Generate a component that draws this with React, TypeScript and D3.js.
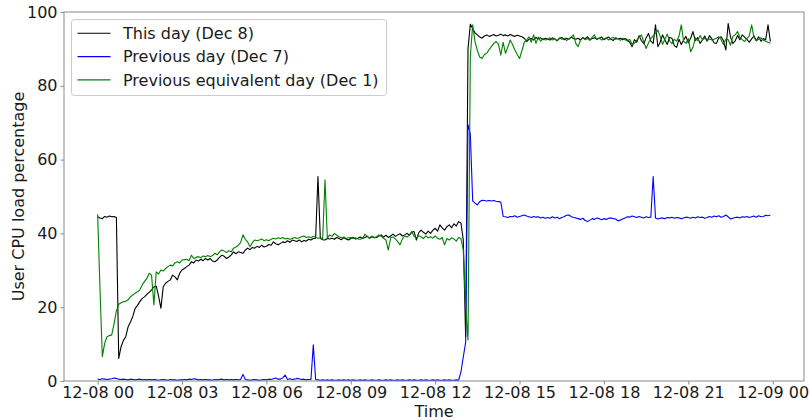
import { useEffect, useRef } from 'react';
import * as d3 from 'd3';

// 5-minute samples starting 12-08 00:00, one row per hour
const thisDay: number[] = [
  44.5, 44.2, 44.0, 44.6, 44.4, 44.7, 44.5, 44.6, 44.3, 6.1, 9.3, 11,
  12, 14.7, 16, 17.5, 19.7, 20.5, 21.5, 22.4, 22.8, 23.5, 24, 24.7,
  25.5, 25.7, 23, 19.7, 25.6, 26.5, 27, 27.4, 28.7, 28.2, 27.4, 29.2,
  30.1, 30.5, 31, 31.4, 32.3, 32, 32.8, 32.5, 33, 32.6, 33.2, 32.8,
  33.2, 32.5, 32.3, 32.8, 33.5, 34.1, 33.8, 33.2, 33.6, 34.2, 35, 34.5,
  35, 34.8, 34.6, 35.5, 36, 35.6, 36.2, 36, 36.5, 36.2, 36.8, 36.3,
  36.5, 37, 36.8, 37.7, 37.2, 36.9, 37.3, 37.7, 37.5, 38, 37.6, 38.2,
  38, 37.8, 38.2, 37.7, 38.1, 37.9, 38.4, 38.2, 38.6, 38.7, 55.4, 38.7,
  38.3, 38.2, 38.6, 38.5, 38.7, 38.4, 38.9, 38.6, 38.3, 38.8, 38.5, 38.2,
  38.6, 38.9, 38.5, 38.7, 39, 38.6, 38.9, 39.2, 38.7, 39.1, 38.8, 38.9,
  39.3, 39.6, 39, 39.5, 38.9, 39.3, 39.8, 39.2, 39.6, 39.9, 39.3, 39.6,
  40, 39.5, 40.3, 40.5, 38.2, 40.2, 40.9, 40.3, 39.8, 40.6, 40, 40.8,
  41.4, 40.6, 42.3, 41.5, 40.9, 41.8, 42.3, 41.5, 42.6, 42, 43.2, 42.8,
  38.2, 12, 90, 96.7, 95.5, 94.3, 93.8, 93.2, 92.9, 93.5, 93.8, 93.4,
  93.6, 93.9, 93.5, 93.7, 94, 93.6, 93.8, 93.5, 93.9, 93.6, 93.4, 93.7,
  93.5, 93.3, 92.9, 92, 92.6, 92.8, 92.4, 93.1, 92.7, 93, 92.5, 92.9,
  92.6, 92.4, 93, 92.7, 92.2, 92.8, 93.1, 92.5, 92.9, 92.6, 93.2, 92.8,
  92.6, 92.9, 92.4, 93.1, 92.7, 93.3, 92.5, 92.8, 93, 92.6, 92.9, 93.2,
  92.5, 92.9, 93.2, 92.6, 92.3, 93, 92.7, 92.9, 92.5, 92.8, 92.4, 91.8,
  90.6, 92.5, 91.8, 93.6, 92.2, 91.4, 93, 94.2, 92.1, 91.5, 96.5, 90.6,
  91.8, 93.8, 92.4, 91.2, 93.1, 92.9, 90.9, 90.4, 92.6, 91.2, 92.4, 93.4,
  91.6, 92.9, 94.7, 92.2, 93.1, 91.5, 92.4, 93.5, 92.1, 93.6, 92.8, 91.6,
  91.5, 93, 93.3, 92.2, 89.7, 96.9, 93.2, 91.5, 92.2, 93.6, 92.5, 93.8,
  93.2, 92.6, 91.8, 92.7, 93.5, 92.2, 93.3, 92.1, 92.8, 92.5, 96.5, 92,
];

const previousDay: number[] = [
  0.5, 0.4, 0.6, 0.5, 0.4, 0.5, 0.6, 0.8, 0.7, 0.5, 0.4, 0.5,
  0.4, 0.3, 0.5, 0.4, 0.3, 0.4, 0.5, 0.3, 0.4, 0.3, 0.4, 0.3,
  0.4, 0.3, 0.2, 0.3, 0.4, 0.3, 0.2, 0.4, 0.3, 0.3, 0.2, 0.3,
  0.3, 0.4, 0.3, 0.5, 0.4, 0.6, 0.5, 0.3, 0.4, 0.3, 0.4, 0.3,
  0.3, 0.2, 0.4, 0.3, 0.4, 0.5, 0.3, 0.4, 0.3, 0.4, 0.3, 0.4,
  0.3, 0.4, 1.8, 0.4, 0.3, 0.2, 0.3, 0.4, 0.3, 0.2, 0.3, 0.4,
  0.3, 0.5, 0.4, 0.6, 0.8, 0.5, 0.5, 0.9, 1.6, 0.4, 0.6, 0.4,
  0.5, 0.7, 0.6, 0.4, 0.5, 0.3, 0.4, 0.4, 9.8, 0.4, 0.3, 0.2,
  0.3, 0.2, 0.3, 0.2, 0.3, 0.2, 0.2, 0.3, 0.2, 0.3, 0.2, 0.3,
  0.2, 0.3, 0.2, 0.2, 0.3, 0.2, 0.3, 0.2, 0.2, 0.3, 0.2, 0.2,
  0.3, 0.2, 0.2, 0.3, 0.2, 0.3, 0.2, 0.2, 0.3, 0.2, 0.3, 0.2,
  0.2, 0.3, 0.2, 0.3, 0.2, 0.2, 0.3, 0.2, 0.3, 0.2, 0.2, 0.3,
  0.2, 0.3, 0.2, 0.2, 0.3, 0.2, 0.3, 0.2, 0.2, 0.3, 0.2, 2.5,
  6.5, 10.5, 69.5, 67, 48.8, 48.2, 47.7, 48.6, 49, 48.9, 48.8, 48.9,
  48.8, 48.9, 48.7, 48.6, 48.5, 44.6, 44.5, 44.3, 44.6, 44.5, 44.8, 44.4,
  44.6, 44.8, 45, 44.7, 44.5, 44.3, 44.6, 44.4, 44.5, 44.2, 44.4, 44.1,
  44.3, 44.1, 44.5, 44.2, 44.4, 44, 44.3, 44.5, 44.9, 45, 44.6, 44.3,
  44.2, 44, 43.8, 44.1, 43.5, 43.2, 43.6, 44, 43.8, 44.2, 44, 43.7,
  44, 43.8, 44.1, 44.2, 44, 43.9, 43.4, 43.6, 43.9, 44.2, 44.5, 44.4,
  44.7, 44.5, 44.3, 44.6, 44.4, 44.2, 44.5, 44.3, 44.4, 55.4, 44.2, 43.9,
  44.1, 44.2, 44, 44.3, 44.2, 44.4, 44.1, 44.3, 44.2, 44, 44.2, 44.4,
  44.3, 44.1, 44.4, 44.2, 44.5, 44.3, 44.4, 44.1, 44.3, 44.6, 44.4, 44.7,
  44.5, 44.8, 44.4, 44.6, 45, 44.5, 43.9, 44.1, 44.3, 44.4, 44.2, 44.5,
  44.4, 44.6, 44.3, 44.5, 44.7, 44.4, 44.8, 44.5, 44.6, 44.9, 44.8, 45,
];

const previousEquivalentDay: number[] = [
  45.2, 25, 6.6, 10.2, 12, 12.3, 12.5, 15.5, 19, 20.8, 21.2, 21.5,
  21.6, 22, 22.8, 23.3, 23.8, 24.2, 24.7, 26, 27, 27.8, 29.2, 28.7,
  20.6, 29.6, 29, 30.1, 29.8, 30.5, 31, 31.4, 31.2, 32, 32.3, 32,
  32.8, 32.9, 33, 32.6, 34.1, 33.2, 33.5, 33.7, 33.4, 33.9, 33.7, 34,
  33.7, 34, 34.6, 34.2, 35, 35.5, 35.2, 34.8, 35.3, 35, 36, 36.3,
  36.8, 37.5, 39.6, 38.4, 37.7, 36.4, 37.5, 38.2, 38, 38.2, 38.5, 38,
  38.3, 38, 38.4, 38.7, 38.5, 38.8, 38.6, 38.9, 38.5, 38.7, 38.4, 38.6,
  38.9, 38.6, 38.8, 39.1, 39.3, 38.9, 39.1, 38.8, 39.2, 38.9, 38.7, 38.8,
  38.6, 54.5, 38.7, 39.6, 39.2, 40, 39.5, 39.1, 38.8, 39, 38.6, 38.8,
  38.9, 38.6, 38.8, 38.5, 38.4, 38.6, 39.8, 39.2, 38.7, 39.3, 38.9, 39.1,
  39.6, 39.2, 38.7, 38.2, 35.5, 38.8, 39, 38.5, 37.8, 36.9, 38.5, 39.3,
  39, 39.6, 40.5, 39.2, 38.8, 39.4, 39, 38.6, 39.3, 38.8, 39.1, 38.7,
  39.3, 38.7, 38.4, 38.9, 36.9, 38.6, 38.2, 38.8, 38.5, 37.9, 38.9, 38.6,
  35.5, 20, 11.1, 88, 96.5, 92, 89.5, 87.8, 87.4, 88.5, 88.8, 89.8,
  90.6, 91.5, 92, 91.3, 88.3, 91.8, 88.8, 90.5, 92.4, 91.2, 89.7, 88.5,
  87.4, 89.5, 91.8, 92.4, 93.3, 91.8, 93.8, 91.5, 93.2, 92.1, 92.8, 92.4,
  92.6, 93, 92.4, 92.8, 92.2, 93, 92.6, 92.9, 92.3, 92.7, 93.2, 93.8,
  91.5, 90.6, 92.4, 93, 92.5, 92.8, 92.3, 93.2, 93.8, 92.5, 93, 92.4,
  92.7, 93, 92.4, 92.9, 93.1, 92.6, 92.8, 92.3, 92.9, 92.5, 92.1, 92.6,
  91.2, 91.5, 92.4, 93.1, 93.8, 91.8, 90.1, 91.6, 92.8, 93.5, 94.2, 95.1,
  93.4, 91.2, 92.6, 94, 92.2, 91.4, 92.6, 92.1, 93.4, 96.5, 92, 91.5,
  92.8, 89.2, 90.5, 93, 92.2, 93.6, 92.5, 92.9, 92.3, 92.7, 92.4, 92.6,
  92.9, 93.3, 92.5, 91.2, 92.7, 92.5, 91, 93.4, 93.8, 94.7, 93.1, 92.5,
  92, 92.8, 93.5, 96.5, 93.1, 92.2, 92.6, 93, 92.4, 92.1, 91.8, 91.5,
];

const seriesNames = ['This day (Dec 8)', 'Previous day (Dec 7)', 'Previous equivalent day (Dec 1)'];
const seriesColors = ['#000000', '#0000ff', '#008000'];
const yTicks = [0, 20, 40, 60, 80, 100];
const startTime = Date.UTC(2018, 11, 8, 0, 0);
const stepMs = 5 * 60 * 1000;

const font = '"DejaVu Sans", sans-serif';

export default function App() {
  const svgRef = useRef<SVGSVGElement | null>(null);

  useEffect(() => {
    const svgElement = svgRef.current;
    if (!svgElement) return;
    const width = 810;
    const height = 420;
    const margin = { top: 12, right: 6, bottom: 39, left: 64 };
    const innerWidth = width - margin.left - margin.right;
    const innerHeight = height - margin.top - margin.bottom;
    const svg = d3.select(svgElement);
    svg.selectAll('*').remove();

    const series = [thisDay, previousDay, previousEquivalentDay];
    const lastTime = startTime + (thisDay.length - 1) * stepMs;
    const pad = (lastTime - startTime) * 0.05;
    const x = d3.scaleUtc().domain([startTime - pad, lastTime + pad]).range([0, innerWidth]);
    const y = d3.scaleLinear().domain([0, 100]).range([innerHeight, 0]);

    const chart = svg.append('g').attr('transform', `translate(${margin.left},${margin.top})`);

    const line = d3
      .line<number>()
      .x((_, i) => x(startTime + i * stepMs))
      .y((d) => y(d));

    series.forEach((values, k) => {
      chart
        .append('path')
        .datum(values)
        .attr('d', line)
        .attr('fill', 'none')
        .attr('stroke', seriesColors[k])
        .attr('stroke-width', 1.1)
        .attr('stroke-linejoin', 'round');
    });

    const tickTimes = d3.range(0, 25, 3).map((h) => new Date(startTime + h * 3600 * 1000));
    const xAxis = chart
      .append('g')
      .attr('transform', `translate(0,${innerHeight})`)
      .call(
        d3
          .axisBottom(x)
          .tickValues(tickTimes)
          .tickFormat((d) => d3.utcFormat('%m-%d %H')(d as Date))
          .tickSize(3.5)
      );
    const yAxis = chart.append('g').call(d3.axisLeft(y).tickValues(yTicks).tickSize(3.5).tickPadding(3));

    [xAxis, yAxis].forEach((axis) => {
      axis.select('.domain').remove();
      axis.selectAll('.tick line').attr('stroke', '#8a8a8a').attr('stroke-width', 1);
      axis.selectAll('.tick text').attr('fill', '#1a1a1a').style('font-family', font).style('font-size', '16px');
    });
    xAxis.selectAll('.tick text').attr('y', 16.5).attr('dy', 0);

    // frame
    chart
      .append('rect')
      .attr('x', 0)
      .attr('y', 0)
      .attr('width', innerWidth)
      .attr('height', innerHeight)
      .attr('fill', 'none')
      .attr('stroke', '#8a8a8a')
      .attr('stroke-width', 1);

    chart
      .append('text')
      .attr('x', innerWidth / 2)
      .attr('y', innerHeight + 35.5)
      .attr('text-anchor', 'middle')
      .attr('fill', '#1a1a1a')
      .style('font-family', font)
      .style('font-size', '16px')
      .text('Time');

    chart
      .append('text')
      .attr('transform', 'rotate(-90)')
      .attr('x', -innerHeight / 2)
      .attr('y', 24 - margin.left)
      .attr('text-anchor', 'middle')
      .attr('fill', '#1a1a1a')
      .style('font-family', font)
      .style('font-size', '16px')
      .text('User CPU load percentage');

    const legend = chart.append('g').attr('transform', 'translate(7.5,7.5)');
    legend
      .append('rect')
      .attr('width', 315)
      .attr('height', 76)
      .attr('rx', 3)
      .attr('fill', 'white')
      .attr('fill-opacity', 0.8)
      .attr('stroke', '#cccccc')
      .attr('stroke-width', 1);
    seriesNames.forEach((name, k) => {
      const cy = 13.8 + k * 23.3;
      legend
        .append('line')
        .attr('x1', 6)
        .attr('x2', 39)
        .attr('y1', cy)
        .attr('y2', cy)
        .attr('stroke', seriesColors[k])
        .attr('stroke-width', 1.1);
      legend
        .append('text')
        .attr('x', 51.5)
        .attr('y', cy + 5.7)
        .attr('fill', '#1a1a1a')
        .style('font-family', font)
        .style('font-size', '16px')
        .text(name);
    });
  }, []);

  return (
    <div style={{ position: 'absolute', left: 0, top: 0, width: 810, height: 420, background: 'white' }}>
      <svg ref={svgRef} width={810} height={420} style={{ display: 'block' }} />
    </div>
  );
}
